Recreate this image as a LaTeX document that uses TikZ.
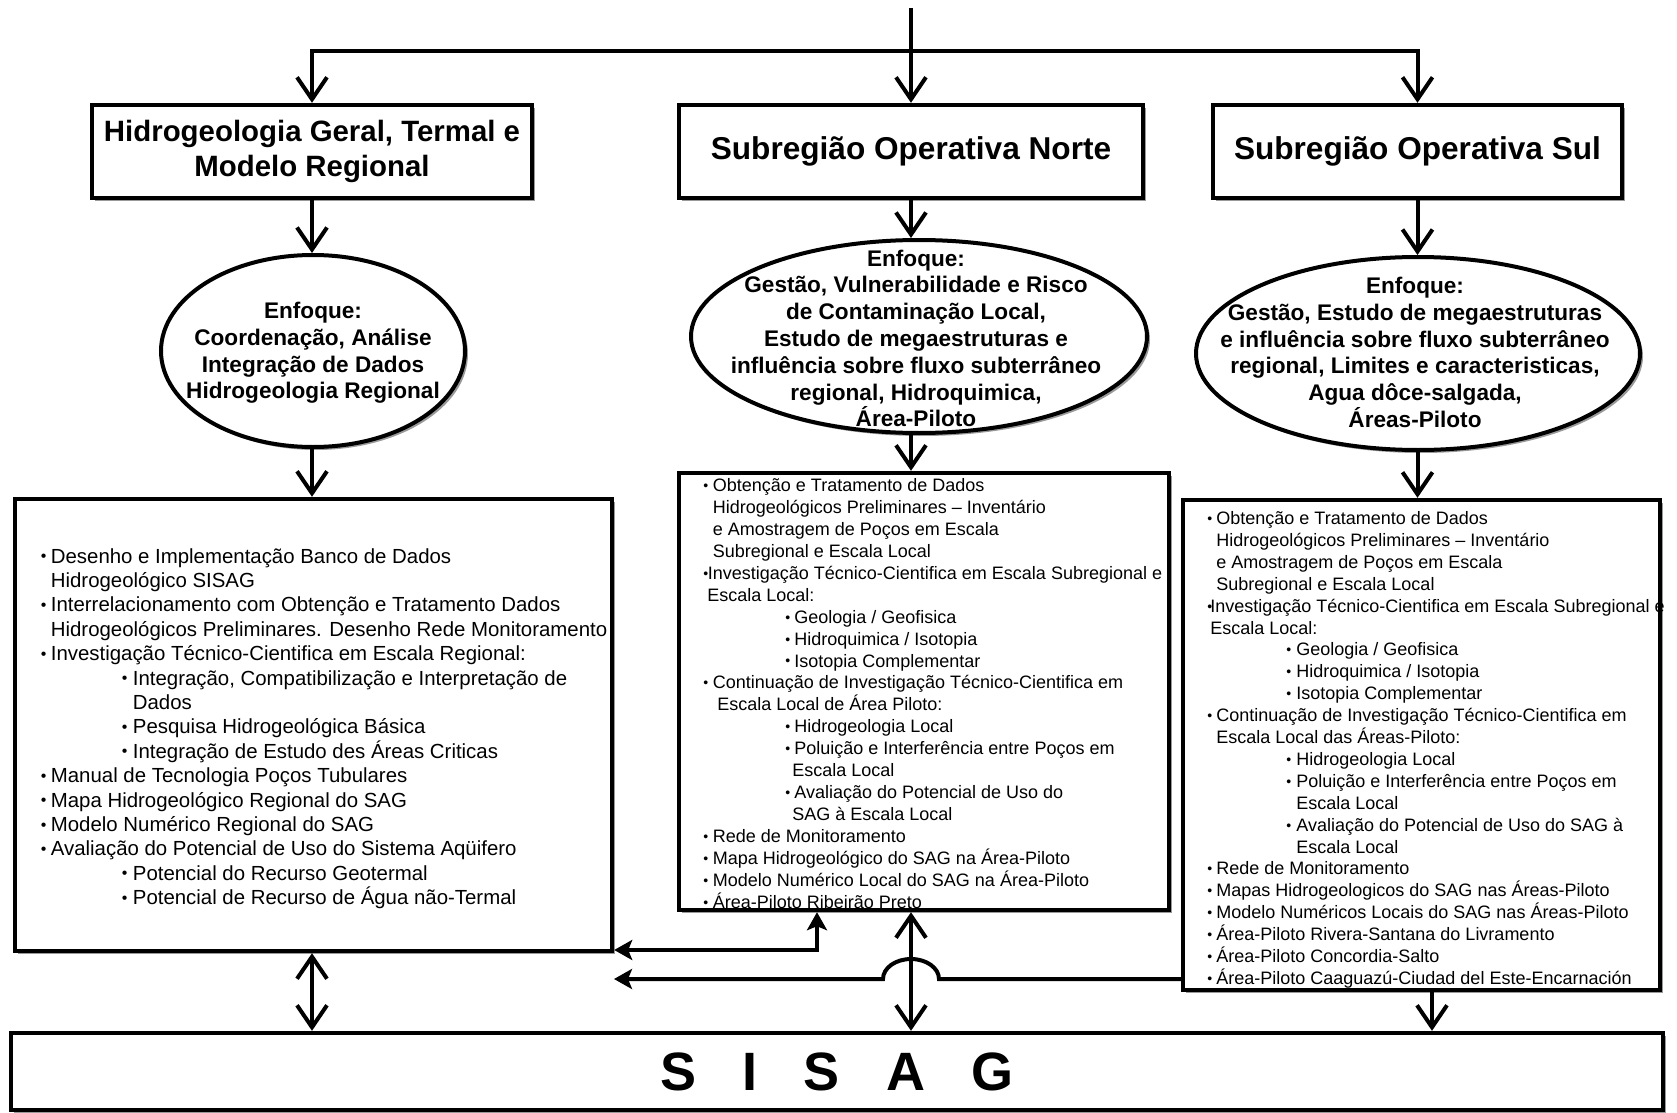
\documentclass[tikz,border=0pt]{standalone}
\usepackage{fontspec}
\setmainfont{Liberation Sans}
\usetikzlibrary{arrows.meta,shadows,shapes.geometric}
\newcommand\bulmark{\raisebox{0.06em}{\scalebox{0.78}{•}}}
\newcommand\li[3]{\hbox to 0pt{\hskip#1\relax\makebox[0pt][l]{\bulmark}\hskip#2\relax #3\hss}}
\newcommand\lc[2]{\hbox to 0pt{\hskip#1\relax #2\hss}}
\begin{document}
\begin{tikzpicture}[x=0.5pt,y=-0.5pt,
  shad/.style={drop shadow={shadow xshift=1.5pt,shadow yshift=-1.5pt,fill=black,opacity=0.4}},
  titlebox/.style={draw,line width=2.2pt,fill=white,shad,inner sep=0pt,minimum height=46.5pt},
  oval/.style={draw,ellipse,line width=2pt,fill=white,shad,inner sep=0pt},
  listbox/.style={draw,line width=2.2pt,fill=white,shad,inner sep=0pt},
  ttl/.style={font=\fontsize{15.8}{19}\selectfont\bfseries,align=center},
  ovt/.style={font=\fontsize{11.3}{13.4}\selectfont\bfseries,align=center,inner sep=0pt},
  lst/.style={anchor=base west,inner sep=0pt},
  conn/.style={line width=2pt},
  arr/.style={conn,-{Straight Barb[length=11pt,width=15pt]}},
  darr/.style={conn,{Straight Barb[length=11pt,width=15pt]}-{Straight Barb[length=11pt,width=15pt]}},
  sarr/.style={conn,-{Stealth[length=9pt,width=10pt,inset=2pt]}},
  dsarr/.style={conn,{Stealth[length=9pt,width=10pt,inset=2pt]}-{Stealth[length=9pt,width=10pt,inset=2pt]}}
]
\useasboundingbox (0,0) rectangle (1677,1113);

% title boxes
\node[titlebox,ttl,font=\fontsize{14.7}{17.5}\selectfont\bfseries,minimum width=220pt] (b1) at (312,151.5) {Hidrogeologia Geral, Termal e\\Modelo Regional};
\node[titlebox,ttl,minimum width=232pt] (b2) at (911,151.5) {Subregião Operativa Norte};
\node[titlebox,ttl,minimum width=204.5pt] (b3) at (1417.5,151.5) {Subregião Operativa Sul};

% ellipses
\node[oval,minimum width=152pt,minimum height=96pt] (e1) at (313,351) {};
\node[oval,minimum width=228pt,minimum height=96.5pt] (e2) at (919,336.5) {};
\node[oval,minimum width=222pt,minimum height=96.5pt] (e3) at (1418,353.5) {};
\node[ovt] (e1t) at (313,353) {Enfoque:\\Coordenação, Análise\\Integração de Dados\\Hidrogeologia Regional};
\node[ovt] (e2t) at (916,338.5) {Enfoque:\\Gestão, Vulnerabilidade e Risco\\de Contaminação Local,\\Estudo de megaestruturas e\\influência sobre fluxo subterrâneo\\regional, Hidroquimica,\\Área-Piloto};
\node[ovt] (e3t) at (1415,352.5) {Enfoque:\\Gestão, Estudo de megaestruturas\\e influência sobre fluxo subterrâneo\\regional, Limites e caracteristicas,\\Agua dôce-salgada,\\Áreas-Piloto};

% list boxes
\node[listbox,minimum width=298.5pt,minimum height=226pt] (l1) at (313.5,725) {};
\node[listbox,minimum width=245pt,minimum height=218.5pt] (l2) at (924,691.5) {};
\node[listbox,minimum width=238.5pt,minimum height=245pt] (l3) at (1421.5,745) {};
\node[listbox,minimum width=826pt,minimum height=38.5pt,font=\fontsize{27}{30}\selectfont\bfseries] (S) at (837,1071.5) {\spaceskip=23pt\relax S I S A G};

\node[lst] (l1t) at (39.5,563) {\fontsize{10.2}{12.2}\selectfont\vtop{%
\li{0pt}{5pt}{Desenho e Implementação Banco de Dados}
\lc{5pt}{Hidrogeológico SISAG}
\li{0pt}{5pt}{Interrelacionamento com Obtenção e Tratamento Dados}
\lc{5pt}{Hidrogeológicos Preliminares. Desenho Rede Monitoramento}
\li{0pt}{5pt}{Investigação Técnico-Cientifica em Escala Regional:}
\li{40.5pt}{5.5pt}{Integração, Compatibilização e Interpretação de}
\lc{46pt}{Dados}
\li{40.5pt}{5.5pt}{Pesquisa Hidrogeológica Básica}
\li{40.5pt}{5.5pt}{Integração de Estudo des Áreas Criticas}
\li{0pt}{5pt}{Manual de Tecnologia Poços Tubulares}
\li{0pt}{5pt}{Mapa Hidrogeológico Regional do SAG}
\li{0pt}{5pt}{Modelo Numérico Regional do SAG}
\li{0pt}{5pt}{Avaliação do Potencial de Uso do Sistema Aqüifero}
\li{40.5pt}{5.5pt}{Potencial do Recurso Geotermal}
\li{40.5pt}{5.5pt}{Potencial de Recurso de Água não-Termal}}};

\node[lst] (l2t) at (702,491.5) {\fontsize{9}{10.97}\selectfont\vtop{%
\li{0pt}{4.75pt}{Obtenção e Tratamento de Dados}
\lc{4.75pt}{Hidrogeológicos Preliminares – Inventário}
\lc{4.75pt}{e Amostragem de Poços em Escala}
\lc{4.75pt}{Subregional e Escala Local}
\li{0pt}{2.25pt}{Investigação Técnico-Cientifica em Escala Subregional e}
\lc{2pt}{Escala Local:}
\li{41pt}{4.5pt}{Geologia / Geofisica}
\li{41pt}{4.5pt}{Hidroquimica / Isotopia}
\li{41pt}{4.5pt}{Isotopia Complementar}
\li{0pt}{4.75pt}{Continuação de Investigação Técnico-Cientifica em}
\lc{7pt}{Escala Local de Área Piloto:}
\li{41pt}{4.5pt}{Hidrogeologia Local}
\li{41pt}{4.5pt}{Poluição e Interferência entre Poços em}
\lc{44.5pt}{Escala Local}
\li{41pt}{4.5pt}{Avaliação do Potencial de Uso do}
\lc{44.5pt}{SAG à Escala Local}
\li{0pt}{4.75pt}{Rede de Monitoramento}
\li{0pt}{4.75pt}{Mapa Hidrogeológico do SAG na Área-Piloto}
\li{0pt}{4.75pt}{Modelo Numérico Local do SAG na Área-Piloto}
\li{0pt}{4.75pt}{Área-Piloto Ribeirão Preto}}};

\node[lst] (l3t) at (1206,524.5) {\fontsize{9}{10.95}\selectfont\vtop{%
\li{0pt}{4.5pt}{Obtenção e Tratamento de Dados}
\lc{4.5pt}{Hidrogeológicos Preliminares – Inventário}
\lc{4.5pt}{e Amostragem de Poços em Escala}
\lc{4.5pt}{Subregional e Escala Local}
\li{0pt}{1.5pt}{Investigação Técnico-Cientifica em Escala Subregional e}
\lc{1.5pt}{Escala Local:}
\li{39.5pt}{5pt}{Geologia / Geofisica}
\li{39.5pt}{5pt}{Hidroquimica / Isotopia}
\li{39.5pt}{5pt}{Isotopia Complementar}
\li{0pt}{4.5pt}{Continuação de Investigação Técnico-Cientifica em}
\lc{4.5pt}{Escala Local das Áreas-Piloto:}
\li{39.5pt}{5pt}{Hidrogeologia Local}
\li{39.5pt}{5pt}{Poluição e Interferência entre Poços em}
\lc{44.5pt}{Escala Local}
\li{39.5pt}{5pt}{Avaliação do Potencial de Uso do SAG à}
\lc{44.5pt}{Escala Local}
\li{0pt}{4.5pt}{Rede de Monitoramento}
\li{0pt}{4.5pt}{Mapas Hidrogeologicos do SAG nas Áreas-Piloto}
\li{0pt}{4.5pt}{Modelo Numéricos Locais do SAG nas Áreas-Piloto}
\li{0pt}{4.5pt}{Área-Piloto Rivera-Santana do Livramento}
\li{0pt}{4.5pt}{Área-Piloto Concordia-Salto}
\li{0pt}{4.5pt}{Área-Piloto Caaguazú-Ciudad del Este-Encarnación}}};

% connectors
\coordinate (top) at (911,8);
\coordinate (bus) at (0,51);
\coordinate (jy) at (0,950);
\coordinate (hy) at (0,979);
\coordinate (tipL) at (614,979);
\draw[arr] (top) -- (b2.north);
\draw[arr] (b2.north |- bus) -| (b1.north);
\draw[arr] (b2.north |- bus) -| (b3.north);
\draw[arr] (b1.south) -- (b1.south |- e1.north);
\draw[arr] (b2.south) -- (b2.south |- e2.north);
\draw[arr] (b3.south) -- (b3.south |- e3.north);
\draw[arr] (b1.south |- e1.south) -- (b1.south |- l1.north);
\draw[arr] (b2.south |- e2.south) -- (b2.south |- l2.north);
\draw[arr] (b3.south |- e3.south) -- (b3.south |- l3.north);
\draw[darr] (b1.south |- l1.south) -- (b1.south |- S.north);
\draw[darr] (b2.south |- l2.south) -- (b2.south |- S.north);
\draw[arr] ([xshift=5.25pt]l3.south) -- ([xshift=5.25pt]l3.south |- S.north);
\draw[dsarr] (l1.east |- jy) -| ([xshift=-53.5pt]l2.south);
\draw[sarr] (l3.west |- hy) -- ([xshift=14pt]b2.south |- hy) arc[start angle=0,end angle=180,x radius=14pt,y radius=10pt] -- (tipL);
\end{tikzpicture}
\end{document}
